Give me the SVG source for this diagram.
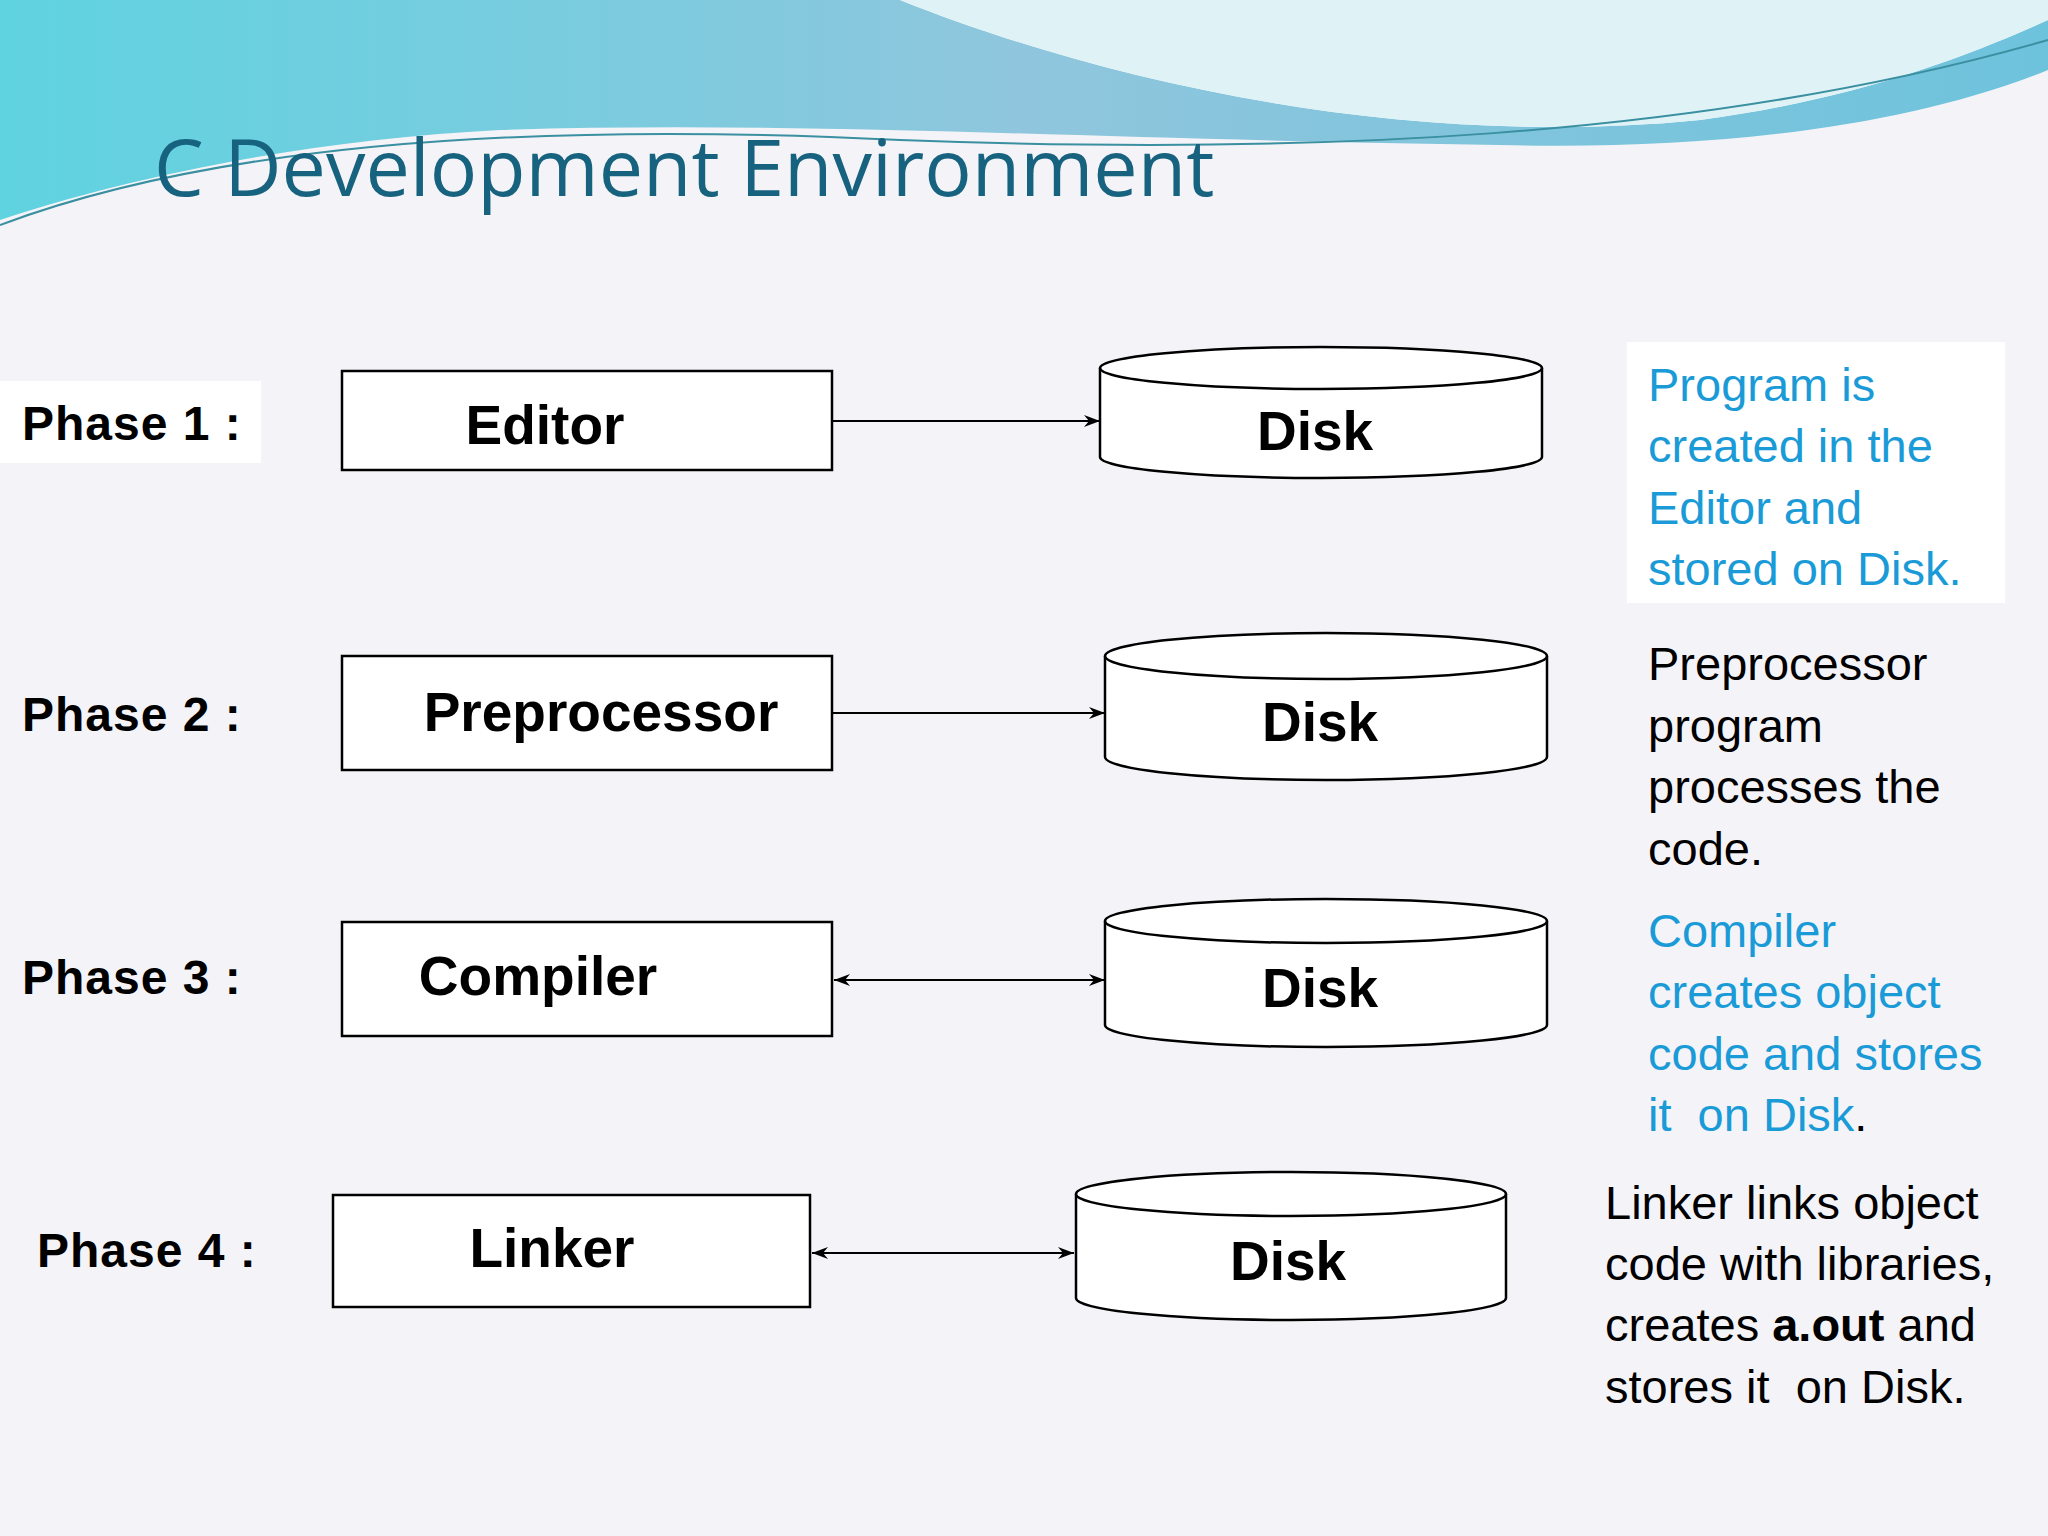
<svg xmlns="http://www.w3.org/2000/svg" width="2048" height="1536" viewBox="0 0 2048 1536">
<style>
.lbl{font-family:"Liberation Sans",Arial,sans-serif;font-weight:bold;font-size:48px;fill:#000;letter-spacing:1px}
.nt{font-family:"Liberation Sans",Arial,sans-serif;font-weight:bold;font-size:55px;fill:#000;text-anchor:middle}
.box{fill:#fff;stroke:#000;stroke-width:2.5}
.cyl{fill:#fff;stroke:#000;stroke-width:2.5}
.con{stroke:#000;stroke-width:2;fill:none}
.desc{font-family:"Liberation Sans",Arial,sans-serif;font-size:47px}
.blue{fill:#1a9bd7}
.blk{fill:#000}
</style>
<defs>
<marker id="ah" viewBox="0 0 16 12" refX="16" refY="6" markerWidth="16" markerHeight="12" markerUnits="userSpaceOnUse" orient="auto-start-reverse">
<path d="M0,0 L16,6 L0,12 L5,6 Z" fill="#000"/>
</marker>
<linearGradient id="wave" x1="0" y1="0" x2="1" y2="0">
<stop offset="0" stop-color="#5fd3e0"/>
<stop offset="0.5" stop-color="#8fc6dd"/>
<stop offset="1" stop-color="#6ec3dc"/>
</linearGradient>
</defs>
<rect width="2048" height="1536" fill="#f4f4f8"/>
<path d="M0,0 H900 C1100,80 1400,150 1700,120 C1850,100 1960,60 2048,20 V70 C1900,130 1700,150 1500,145 C1100,140 800,120 500,130 C300,140 120,180 0,220 Z" fill="url(#wave)"/>
<path d="M900,0 C1100,80 1400,150 1700,120 C1850,100 1960,60 2048,20 V0 Z" fill="#dff3f7"/>
<path d="M0,225 C200,150 500,120 900,140 C1300,155 1700,140 2048,40" stroke="#3a8fa0" stroke-width="2" fill="none"/>
<text x="154" y="196" font-family="'Open Sans','Liberation Sans',sans-serif" font-size="79" fill="#17637f">C Development Environment</text>
<rect x="0" y="381" width="261" height="82" fill="#fff"/>
<rect x="1627" y="342" width="378" height="261" fill="#fff"/>
<g id="phases">
<text class="lbl" x="22" y="440">Phase 1 :</text>
<text class="lbl" x="22" y="731">Phase 2 :</text>
<text class="lbl" x="22" y="994">Phase 3 :</text>
<text class="lbl" x="37" y="1267">Phase 4 :</text>
</g>
<g id="editor"><rect class="box" x="342" y="371" width="490" height="99"/><text class="nt" x="545" y="444">Editor</text></g>
<g id="preprocessor"><rect class="box" x="342" y="656" width="490" height="114"/><text class="nt" x="601" y="731">Preprocessor</text></g>
<g id="compiler"><rect class="box" x="342" y="922" width="490" height="114"/><text class="nt" x="538" y="995">Compiler</text></g>
<g id="linker"><rect class="box" x="333" y="1195" width="477" height="112"/><text class="nt" x="552" y="1267">Linker</text></g>
<g id="disk1"><path class="cyl" d="M1100,368 V457 A221,21 0 0 0 1542,457 V368"/><ellipse class="cyl" cx="1321" cy="368" rx="221" ry="21"/><text class="nt" x="1315" y="450">Disk</text></g>
<g id="disk2"><path class="cyl" d="M1105,656 V757 A221,23 0 0 0 1547,757 V656"/><ellipse class="cyl" cx="1326" cy="656" rx="221" ry="23"/><text class="nt" x="1320" y="741">Disk</text></g>
<g id="disk3"><path class="cyl" d="M1105,921 V1025 A221,22 0 0 0 1547,1025 V921"/><ellipse class="cyl" cx="1326" cy="921" rx="221" ry="22"/><text class="nt" x="1320" y="1007">Disk</text></g>
<g id="disk4"><path class="cyl" d="M1076,1194 V1298 A215,22 0 0 0 1506,1298 V1194"/><ellipse class="cyl" cx="1291" cy="1194" rx="215" ry="22"/><text class="nt" x="1288" y="1280">Disk</text></g>
<g id="connectors">
<line class="con" x1="832" y1="421" x2="1100" y2="421" marker-end="url(#ah)"/>
<line class="con" x1="832" y1="713" x2="1105" y2="713" marker-end="url(#ah)"/>
<line class="con" x1="834" y1="980" x2="1105" y2="980" marker-start="url(#ah)" marker-end="url(#ah)"/>
<line class="con" x1="812" y1="1253" x2="1074" y2="1253" marker-start="url(#ah)" marker-end="url(#ah)"/>
</g>
<g id="notes">
<text class="desc blue" x="1648" y="401">Program is</text>
<text class="desc blue" x="1648" y="462">created in the</text>
<text class="desc blue" x="1648" y="524">Editor and</text>
<text class="desc blue" x="1648" y="585">stored on Disk.</text>
<text class="desc blk" x="1648" y="680">Preprocessor</text>
<text class="desc blk" x="1648" y="742">program</text>
<text class="desc blk" x="1648" y="803">processes the</text>
<text class="desc blk" x="1648" y="865">code.</text>
<text class="desc blue" x="1648" y="947">Compiler</text>
<text class="desc blue" x="1648" y="1008">creates object</text>
<text class="desc blue" x="1648" y="1070">code and stores</text>
<text class="desc blue" x="1648" y="1131" xml:space="preserve">it  on Disk<tspan class="blk">.</tspan></text>
<text class="desc blk" x="1605" y="1219">Linker links object</text>
<text class="desc blk" x="1605" y="1280">code with libraries,</text>
<text class="desc blk" x="1605" y="1341">creates <tspan font-weight="bold">a.out</tspan> and</text>
<text class="desc blk" x="1605" y="1403" xml:space="preserve">stores it  on Disk.</text>
</g>
</svg>
